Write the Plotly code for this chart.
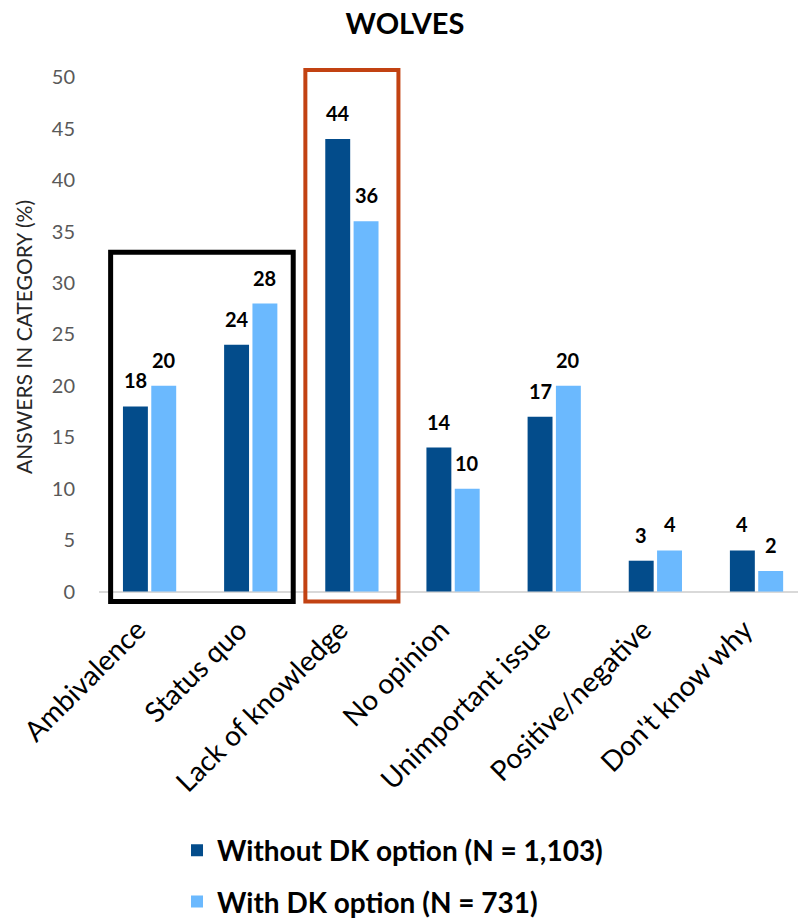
import plotly.graph_objects as go

categories = ["Ambivalence", "Status quo", "Lack of knowledge", "No opinion",
              "Unimportant issue", "Positive/negative", "Don't know why"]
without_dk = [18, 24, 44, 14, 17, 3, 4]
with_dk = [20, 28, 36, 10, 20, 4, 2]
series_names = ["Without DK option (N = 1,103)", "With DK option (N = 731)"]
y_ticks = [0, 5, 10, 15, 20, 25, 30, 35, 40, 45, 50]

FONT = "Lato, 'Open Sans', sans-serif"
DARK = "#034C8B"
LIGHT = "#6BB9FE"
BARGAP = 0.44
GROUPGAP = 0.12

fig = go.Figure()
series = [(series_names[0], without_dk, DARK, "a"),
          (series_names[1], with_dk, LIGHT, "b")]
for name, vals, col, grp in series:
    fig.add_trace(go.Bar(
        x=categories, y=vals, name="<b>" + name + "</b>",
        marker=dict(color=col, line=dict(width=0)),
        legendgroup=grp, cliponaxis=False,
    ))

# value labels above each bar
slot = (1 - BARGAP) / 2
for k, (name, vals, col, grp) in enumerate(series):
    off = (k - 0.5) * slot
    for i, v in enumerate(vals):
        fig.add_annotation(x=i + off, y=v, xref="x", yref="y", text="<b>%d</b>" % v,
                           showarrow=False, yanchor="bottom", xanchor="center", yshift=12,
                           font=dict(family=FONT, size=20, color="#000000"))

# highlight boxes
fig.add_shape(type="rect", xref="x", yref="y", x0=-0.385, x1=1.42, y0=-0.97, y1=33,
              line=dict(color="#000000", width=5), fillcolor="rgba(0,0,0,0)", layer="above")
fig.add_shape(type="rect", xref="x", yref="y", x0=1.54, x1=2.46, y0=-0.97, y1=50.7,
              line=dict(color="#C24212", width=4), fillcolor="rgba(0,0,0,0)", layer="above")

fig.update_layout(
    width=798, height=920,
    margin=dict(l=99, r=0, t=67, b=313, autoexpand=False),
    paper_bgcolor="white", plot_bgcolor="white",
    font=dict(family=FONT, color="#000000"),
    title=dict(text="<b>WOLVES</b>", x=405/798, xref="container", xanchor="center",
               y=1 - 14/920, yref="container", yanchor="top", pad=dict(t=0, b=0),
               font=dict(family=FONT, size=29, color="#000000")),
    barmode="group", bargap=BARGAP, bargroupgap=GROUPGAP,
    showlegend=True,
    legend=dict(x=0.1116, y=-0.4046, xanchor="left", yanchor="top",
                orientation="v", traceorder="grouped", tracegroupgap=12,
                font=dict(family=FONT, size=28, color="#000000"),
                bgcolor="rgba(0,0,0,0)", itemclick=False),
)

fig.update_xaxes(range=[-0.5, 6.41], tickangle=-45, showgrid=False, showline=False,
                 ticks="", tickfont=dict(family=FONT, size=28, color="#000000"),
                 ticklabelshift=-12, automargin=False)
fig.update_yaxes(range=[-1.5, 51], tickvals=y_ticks, showgrid=False, showline=False,
                 zeroline=True, zerolinecolor="#D9D9D9", zerolinewidth=2,
                 ticks="", ticklabelstandoff=23,
                 tickfont=dict(family=FONT, size=20, color="#595959"),
                 title=dict(text="ANSWERS IN CATEGORY (%)", standoff=13,
                            font=dict(family=FONT, size=21, color="#262626")),
                 automargin=False)

fig.write_html("out.html", config={"displayModeBar": False},
               post_script="document.body.style.margin='0';document.body.style.overflow='hidden';")
